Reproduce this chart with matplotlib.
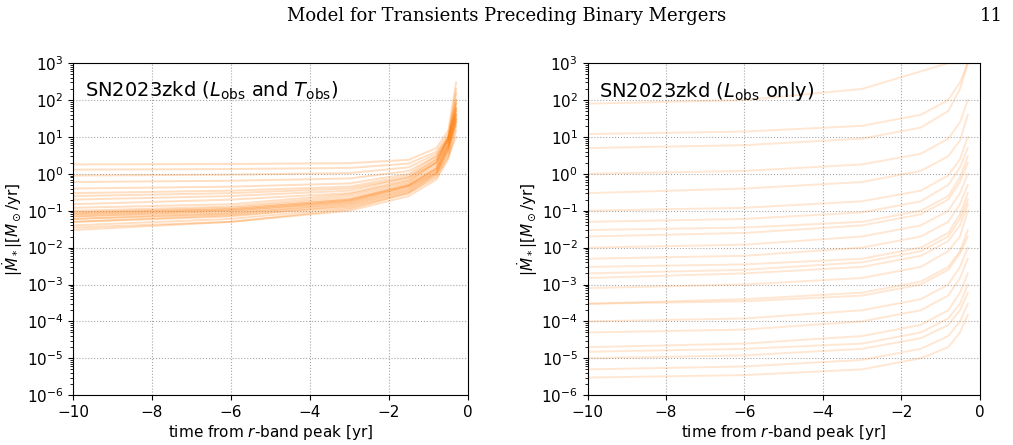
import matplotlib
matplotlib.use("Agg")
import matplotlib.pyplot as plt

times = [-10, -6, -3, -1.5, -0.8, -0.5, -0.3]

left_curves = [
    [0.04, 0.06, 0.12, 0.3, 0.9, 3, 20],
    [0.05, 0.07, 0.14, 0.35, 1, 4, 30],
    [0.06, 0.08, 0.16, 0.4, 1.2, 5, 40],
    [0.07, 0.09, 0.18, 0.45, 1.4, 6, 60],
    [0.08, 0.11, 0.2, 0.5, 1.5, 7, 80],
    [0.09, 0.12, 0.22, 0.55, 1.7, 8, 100],
    [0.1, 0.13, 0.25, 0.6, 2, 9, 150],
    [0.12, 0.15, 0.28, 0.65, 2, 10, 200],
    [0.03, 0.05, 0.1, 0.25, 0.7, 2.5, 15],
    [0.035, 0.05, 0.11, 0.3, 0.8, 3, 10],
    [0.15, 0.2, 0.3, 0.7, 2.2, 8, 60],
    [0.2, 0.25, 0.35, 0.8, 2.5, 9, 50],
    [0.3, 0.35, 0.45, 0.9, 2.5, 8, 40],
    [0.4, 0.45, 0.55, 1, 3, 10, 80],
    [0.6, 0.65, 0.75, 1.2, 3, 9, 40],
    [0.9, 0.95, 1.05, 1.5, 3.5, 10, 60],
    [1.3, 1.35, 1.45, 1.9, 4, 12, 100],
    [1.8, 1.85, 1.95, 2.4, 5, 15, 300],
    [0.07, 0.1, 0.17, 0.45, 1.1, 5, 25],
    [0.08, 0.1, 0.19, 0.48, 1.3, 5.5, 35],
    [0.25, 0.3, 0.4, 0.8, 2, 6, 30],
    [0.06, 0.085, 0.15, 0.38, 1.1, 4.5, 30],
    [0.09, 0.11, 0.2, 0.5, 1.4, 6, 50],
    [0.05, 0.075, 0.13, 0.33, 1, 4, 25],
]

right_curves = [
    [80, 100, 200, 600, 1000, 1000, 1000],
    [12, 14, 20, 40, 100, 300, 1000],
    [5, 6, 9, 18, 50, 200, 1000],
    [1, 1.2, 1.8, 3.5, 9, 25, 100],
    [0.3, 0.4, 0.6, 1.2, 3, 8, 40],
    [0.1, 0.12, 0.18, 0.35, 0.9, 2.5, 10],
    [0.05, 0.06, 0.09, 0.18, 0.5, 1.5, 5],
    [0.02, 0.025, 0.04, 0.08, 0.2, 0.6, 2],
    [0.01, 0.012, 0.02, 0.04, 0.1, 0.3, 1],
    [0.005, 0.006, 0.01, 0.02, 0.05, 0.15, 0.5],
    [0.002, 0.0025, 0.004, 0.008, 0.02, 0.06, 0.2],
    [0.0015, 0.002, 0.003, 0.006, 0.015, 0.04, 0.15],
    [0.0008, 0.001, 0.0015, 0.003, 0.008, 0.02, 0.1],
    [0.0003, 0.00035, 0.0005, 0.001, 0.0025, 0.007, 0.02],
    [0.0003, 0.0004, 0.0006, 0.0012, 0.003, 0.008, 0.03],
    [0.0001, 0.00012, 0.0002, 0.0004, 0.001, 0.003, 0.01],
    [5e-5, 6e-5, 1e-4, 2e-4, 5e-4, 1.5e-3, 5e-3],
    [2e-5, 2.5e-5, 4e-5, 8e-5, 2e-4, 6e-4, 2e-3],
    [1.5e-5, 1.8e-5, 2.5e-5, 5e-5, 1.2e-4, 3e-4, 1e-3],
    [1e-5, 1.2e-5, 1.8e-5, 3.5e-5, 8e-5, 2e-4, 6e-4],
    [5e-6, 6e-6, 9e-6, 1.8e-5, 4e-5, 1e-4, 3e-4],
    [3e-6, 3.5e-6, 5e-6, 1e-5, 2e-5, 5e-5, 1.5e-4],
    [0.03, 0.035, 0.05, 0.1, 0.25, 0.8, 3],
    [0.003, 0.0035, 0.005, 0.01, 0.025, 0.08, 0.3],
]

titles = [r"SN2023zkd ($L_{\rm obs}$ and $T_{\rm obs}$)", r"SN2023zkd ($L_{\rm obs}$ only)"]
xticks = [-10, -8, -6, -4, -2, 0]

fig = plt.figure(figsize=(10.13, 4.45), dpi=100)
fig.text(0.5, 0.965, "Model for Transients Preceding Binary Mergers", ha="center",
         va="center", fontsize=13, family="DejaVu Serif")
fig.text(0.99, 0.965, "11", ha="right", va="center", fontsize=13, family="DejaVu Serif")

axes = [fig.add_axes([0.072, 0.112, 0.39, 0.746]),
        fig.add_axes([0.580, 0.112, 0.387, 0.746])]
for ax, curves, title, alpha in zip(axes, [left_curves, right_curves], titles, [0.25, 0.18]):
    for c in curves:
        ax.plot(times, c, color="#ff7f0e", alpha=alpha, lw=1.4, solid_joinstyle="round")
    ax.set_yscale("log")
    ax.set_ylim(1e-6, 1e3)
    ax.set_xlim(-10, 0)
    ax.set_xticks(xticks)
    ax.set_xticklabels([str(t).replace("-", "\u2212") for t in xticks])
    ax.grid(True, ls=":", color="gray", alpha=0.7)
    ax.set_xlabel(r"time from $r$-band peak [yr]", fontsize=11, labelpad=2)
    ax.set_ylabel(r"$|\dot{M}_*| [M_\odot/{\rm yr}]$", fontsize=11, labelpad=1)
    ax.tick_params(labelsize=11)
    ax.text(0.03, 0.95, title, transform=ax.transAxes, fontsize=14, va="top")

fig.savefig("out.png", dpi=100)
